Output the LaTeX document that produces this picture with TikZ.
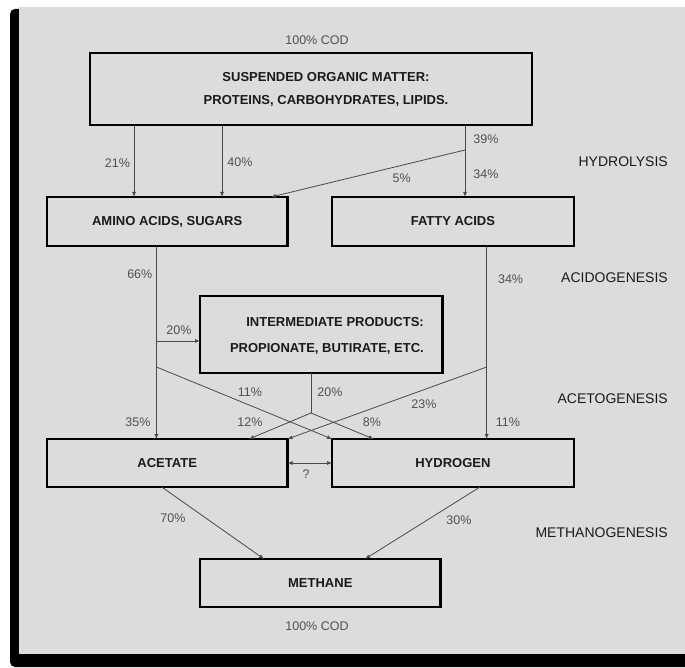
\documentclass[tikz,border=0pt]{standalone}
\usepackage{fontspec}
\setmainfont{Liberation Sans}
\usetikzlibrary{arrows.meta}
\definecolor{panel}{HTML}{DCDCDC}
\definecolor{linec}{HTML}{4A4A4A}
\definecolor{pctc}{HTML}{505050}
\definecolor{boxtext}{HTML}{1A1A1A}
\begin{document}
\begin{tikzpicture}[x=1pt,y=-1pt,
  procbox/.style={draw=black, line width=2.4pt, inner sep=0pt, outer sep=0pt},
  boxlabel/.style={font=\fontsize{13}{15}\selectfont\bfseries, text=boxtext, inner sep=0pt},
  pct/.style={font=\fontsize{12.5}{14}\selectfont, text=pctc, inner sep=0pt},
  stage/.style={font=\fontsize{14}{16}\selectfont, text=boxtext, inner sep=0pt, anchor=east},
  conn/.style={draw=linec, line width=0.8pt},
  arr/.style={conn, -{Latex[length=5pt,width=4pt]}},
  darr/.style={conn, {Latex[length=5pt,width=4pt]}-{Latex[length=5pt,width=4pt]}}]
\useasboundingbox (0,0) rectangle (685,668);
% panel with shadow
\fill[black, rounded corners=5pt] (10,9) rectangle (700,667);
\fill[panel] (19,7) rectangle (690,654);

% boxes
\node[procbox, minimum width=442pt, minimum height=72pt] (top) at (311,89) {};
\node[boxlabel] (toptxt1) at (326,77.5) {SUSPENDED ORGANIC MATTER:};
\node[boxlabel] (toptxt2) at (326,101) {PROTEINS, CARBOHYDRATES, LIPIDS.};
\node[pct] (codtop) at (317,40) {100\% COD};

\node[procbox, minimum width=240.7pt, minimum height=49pt, boxlabel] (amino) at (167.2,221.5) {AMINO ACIDS, SUGARS};
\node[procbox, minimum width=241.7pt, minimum height=49pt, boxlabel] (fatty) at (452.9,221.5) {FATTY ACIDS};

\node[procbox, minimum width=242.6pt, minimum height=77pt] (inter) at (321.3,334.5) {};
\node[boxlabel, anchor=east] (intertxt1) at (424,322) {INTERMEDIATE PRODUCTS:};
\node[boxlabel, anchor=east] (intertxt2) at (424,349) {PROPIONATE, BUTIRATE, ETC.};

\node[procbox, minimum width=240.7pt, minimum height=48pt, boxlabel] (acetate) at (167.2,463) {ACETATE};
\node[procbox, minimum width=241.7pt, minimum height=48pt, boxlabel] (hydrogen) at (452.9,463) {HYDROGEN};

\node[procbox, minimum width=240.5pt, minimum height=48pt, boxlabel] (methane) at (320.3,583) {METHANE};
\node[pct] (codbot) at (317,626) {100\% COD};

% helper coordinates
\coordinate (x134) at (134,0);
\coordinate (x222) at (222,0);
\coordinate (x465) at (465,0);
\coordinate (d5) at (465,150);
\coordinate (x271) at (271,0);
\coordinate (xam) at (156.4,0);
\coordinate (xfa) at (486.7,0);
\coordinate (b20) at (156.4,341);
\coordinate (c11) at (156.4,367);
\coordinate (c23) at (486.7,367);
\coordinate (j) at (311,413);
\coordinate (x249) at (249,0);
\coordinate (x374) at (373.6,0);
\coordinate (xa70) at (161.7,0);
\coordinate (xm70) at (264,0);
\coordinate (xh30) at (480,0);
\coordinate (xm30) at (365,0);

% hydrolysis
\draw[arr] (top.south -| x134) -- (amino.north -| x134);
\draw[arr] (top.south -| x222) -- (amino.north -| x222);
\draw[arr] (top.south -| x465) -- (fatty.north -| x465);
\draw[arr] (d5) -- (amino.north -| x271);

% acidogenesis
\draw[arr] (amino.south -| xam) -- (acetate.north -| xam);
\draw[arr] (fatty.south -| xfa) -- (hydrogen.north -| xfa);
\draw[arr] (b20) -- (inter.west |- b20);

% acetogenesis
\draw[arr] (c11) -- (hydrogen.north west);
\draw[arr] (c23) -- (acetate.north east);
\draw[conn] (inter.south -| j) -- (j);
\draw[arr] (j) -- (acetate.north -| x249);
\draw[arr] (j) -- (hydrogen.north -| x374);
\draw[darr] (acetate.east) -- (hydrogen.west);

% methanogenesis
\draw[arr] (acetate.south -| xa70) -- (methane.north -| xm70);
\draw[arr] (hydrogen.south -| xh30) -- (methane.north -| xm30);

% percentages
\node[pct] (p21) at (117.5,163) {21\%};
\node[pct] (p40) at (240,162) {40\%};
\node[pct] (p39) at (486,139) {39\%};
\node[pct] (p34a) at (486,174) {34\%};
\node[pct] (p5) at (401.6,178) {5\%};
\node[pct] (p66) at (139.8,274) {66\%};
\node[pct] (p34b) at (510.6,279) {34\%};
\node[pct] (p20a) at (179,330) {20\%};
\node[pct] (p11a) at (250,392) {11\%};
\node[pct] (p20b) at (330,392) {20\%};
\node[pct] (p23) at (424,404) {23\%};
\node[pct] (p35) at (138,422) {35\%};
\node[pct] (p12) at (250,422) {12\%};
\node[pct] (p8) at (372,422) {8\%};
\node[pct] (p11b) at (508,422) {11\%};
\node[pct] (pq) at (306,474) {?};
\node[pct] (p70) at (173,518) {70\%};
\node[pct] (p30) at (459,520) {30\%};

% stage labels
\node[stage] (s1) at (668,162) {HYDROLYSIS};
\node[stage] (s2) at (668,278) {ACIDOGENESIS};
\node[stage] (s3) at (668,399) {ACETOGENESIS};
\node[stage] (s4) at (668,533) {METHANOGENESIS};
\end{tikzpicture}
\end{document}
